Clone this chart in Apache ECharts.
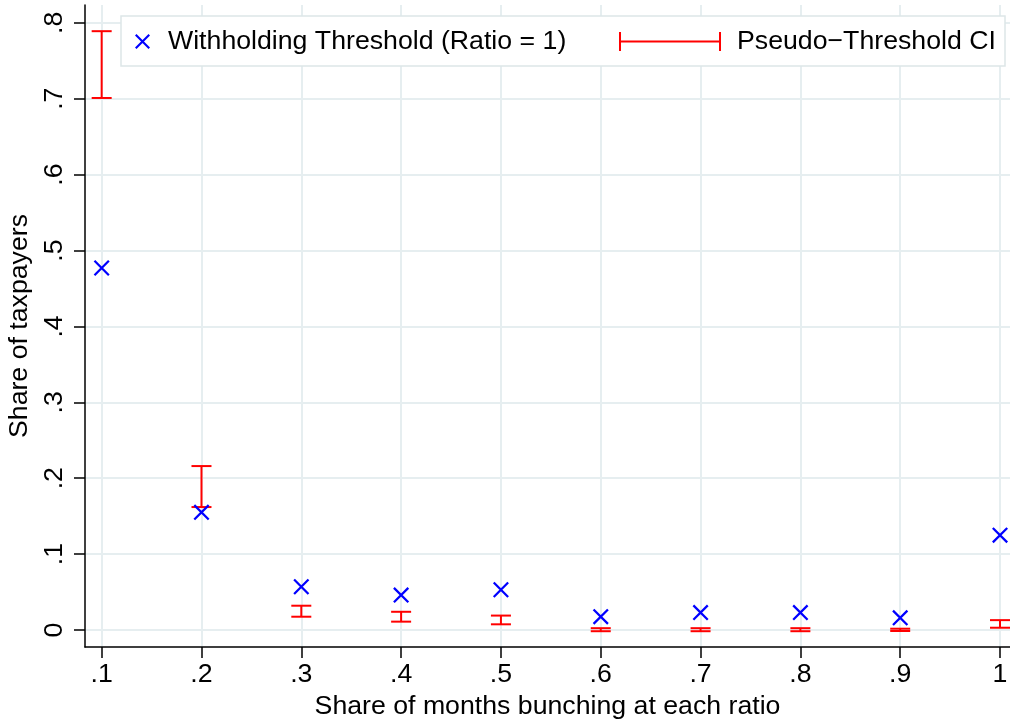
<!DOCTYPE html>
<html>
<head>
<meta charset="utf-8">
<script src="https://cdn.jsdelivr.net/npm/echarts@6/dist/echarts.min.js"></script>
<style>
  html, body { margin: 0; padding: 0; background: #ffffff; }
  #chart { width: 1010px; height: 721px; }
</style>
</head>
<body>
<div id="chart"></div>
<script>
// Share of months bunching at each ratio (x positions)
const shares = [0.1, 0.2, 0.3, 0.4, 0.5, 0.6, 0.7, 0.8, 0.9, 1];
// Share of taxpayers at the withholding threshold (ratio = 1)
const thresholdShare = [0.477, 0.155, 0.057, 0.046, 0.053, 0.0175, 0.023, 0.023, 0.016, 0.125];
// Pseudo-threshold confidence interval bounds
const ciLow  = [0.701, 0.162, 0.0175, 0.011, 0.0075, -0.0016, -0.0016, -0.0016, -0.0013, 0.003];
const ciHigh = [0.789, 0.216, 0.032, 0.024, 0.019, 0.0024, 0.0024, 0.0024, 0.0017, 0.013];
// Axis tick values
const xTicks = [0.1, 0.2, 0.3, 0.4, 0.5, 0.6, 0.7, 0.8, 0.9, 1];
const yTicks = [0, 0.1, 0.2, 0.3, 0.4, 0.5, 0.6, 0.7, 0.8];

const FONT = '"Liberation Sans", Arial, Helvetica, sans-serif';
const FONT_SIZE = 26.7;
const GRID_COLOR = '#e6eef0';
const RED = '#ff0000';
const BLUE = '#0000ff';

// Stata-style labels: ".1", ".2", ... with bare "0" and "1"
function fmtTick(v) {
  const n = +(+v).toFixed(1);
  if (n === 0) return '0';
  if (n === 1) return '1';
  return String(n).replace(/^0\./, '.').replace(/^-0\./, '-.');
}

// X-shaped marker as a filled outline (two crossing bars)
const crossPath = 'path://M0 10L10 0L100 90L90 100ZM90 0L100 10L10 100L0 90Z';
// Error-bar legend key: |----|
const ciPath = 'path://M0 0H2V8.5H100V0H102V19H100V10.5H2V19H0Z';

const ciData = shares.map((s, i) => [s, ciLow[i], ciHigh[i]]);
const ptData = shares.map((s, i) => [s, thresholdShare[i]]);

const chart = echarts.init(document.getElementById('chart'), null, { renderer: 'canvas' });

chart.setOption({
  animation: false,
  backgroundColor: '#ffffff',
  textStyle: { fontFamily: FONT },
  grid: { left: 85, right: 0, top: 5, bottom: 74, containLabel: false, outerBoundsMode: 'none' },
  xAxis: {
    type: 'value',
    min: 0.0833,
    max: 1.01,
    name: 'Share of months bunching at each ratio',
    nameLocation: 'middle',
    nameGap: 44,
    nameTextStyle: { fontFamily: FONT, fontSize: FONT_SIZE, color: '#000' },
    axisLine: { show: true, onZero: false, lineStyle: { color: '#000', width: 1.5 } },
    axisTick: { show: true, length: 11, customValues: xTicks, lineStyle: { color: '#000', width: 1.5 } },
    axisLabel: {
      customValues: xTicks, formatter: fmtTick, margin: 14,
      fontFamily: FONT, fontSize: FONT_SIZE, color: '#000'
    },
    splitLine: { show: true, lineStyle: { color: GRID_COLOR, width: 2 } }
  },
  yAxis: {
    type: 'value',
    min: -0.0224,
    max: 0.8235,
    name: 'Share of taxpayers',
    nameLocation: 'middle',
    nameRotate: 90,
    nameGap: 52,
    nameTextStyle: { fontFamily: FONT, fontSize: FONT_SIZE, color: '#000' },
    axisLine: { show: true, onZero: false, lineStyle: { color: '#000', width: 1.5 } },
    axisTick: { show: true, length: 11, customValues: yTicks, lineStyle: { color: '#000', width: 1.5 } },
    axisLabel: {
      customValues: yTicks, formatter: fmtTick, rotate: 90, margin: 17,
      fontFamily: FONT, fontSize: FONT_SIZE, color: '#000'
    },
    splitLine: { show: true, lineStyle: { color: GRID_COLOR, width: 2 } }
  },
  graphic: [{
    type: 'rect',
    z: 3,
    shape: { x: 121, y: 16, width: 884, height: 50 },
    style: { fill: '#ffffff', stroke: '#dde6e8', lineWidth: 1.5 }
  }],
  legend: [{
    z: 5,
    left: 135,
    top: 28,
    padding: 0,
    itemWidth: 15,
    itemHeight: 15,
    data: [{ name: 'Withholding Threshold (Ratio = 1)', icon: crossPath }],
    textStyle: { fontFamily: FONT, fontSize: FONT_SIZE, color: '#000', padding: [0, 0, 0, 13] }
  }, {
    z: 5,
    left: 619,
    top: 28,
    padding: 0,
    itemWidth: 102,
    itemHeight: 19,
    data: [{ name: 'Pseudo\u2212Threshold CI', icon: ciPath }],
    textStyle: { fontFamily: FONT, fontSize: FONT_SIZE, color: '#000', padding: [0, 0, 0, 11] }
  }],
  series: [{
    name: 'Pseudo\u2212Threshold CI',
    type: 'custom',
    z: 2,
    clip: false,
    itemStyle: { color: RED },
    encode: { x: 0, y: [1, 2] },
    data: ciData,
    renderItem: function (params, api) {
      const x = api.value(0);
      const pLo = api.coord([x, api.value(1)]);
      const pHi = api.coord([x, api.value(2)]);
      const half = 10;
      const style = { stroke: RED, lineWidth: 2, fill: null };
      return {
        type: 'group',
        children: [
          { type: 'line', shape: { x1: pHi[0], y1: pHi[1], x2: pLo[0], y2: pLo[1] }, style: style },
          { type: 'line', shape: { x1: pHi[0] - half, y1: pHi[1], x2: pHi[0] + half, y2: pHi[1] }, style: style },
          { type: 'line', shape: { x1: pLo[0] - half, y1: pLo[1], x2: pLo[0] + half, y2: pLo[1] }, style: style }
        ]
      };
    }
  }, {
    name: 'Withholding Threshold (Ratio = 1)',
    type: 'scatter',
    z: 3,
    symbol: crossPath,
    symbolSize: 16,
    itemStyle: { color: BLUE, opacity: 1 },
    data: ptData
  }]
});
</script>
</body>
</html>
